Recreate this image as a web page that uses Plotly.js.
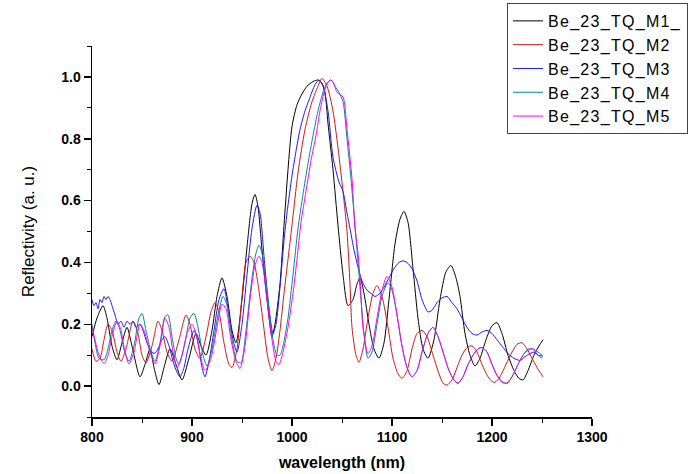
<!DOCTYPE html>
<html>
<head>
<meta charset="utf-8">
<script src="https://cdn.plot.ly/plotly-3.0.1.min.js"></script>
<style>html,body{margin:0;padding:0;background:#fff;}#chart{width:696px;height:474px;}
.legendtext{letter-spacing:1.3px;}</style>
</head>
<body>
<div id="chart"></div>
<script>
// Series names
const seriesNames = ["Be_23_TQ_M1_", "Be_23_TQ_M2", "Be_23_TQ_M3", "Be_23_TQ_M4", "Be_23_TQ_M5"];

// M1 (black)
const wlM1 = [800,805,811,815,820,825,830,835,840,848,853,858,862,867,872,878,884,890,897,904,909,914,920,925,930,935,940,944,950,955,960,963,966,970,975,980,983,988,992,996,1000,1005,1010,1015,1021,1026,1030,1033,1036,1041,1046,1051,1056,1061,1065,1068,1072,1077,1082,1087,1092,1097,1103,1108,1112,1116,1121,1126,1131,1136,1142,1148,1154,1159,1164,1168,1173,1178,1183,1188,1194,1200,1205,1210,1216,1222,1227,1231,1236,1242,1247,1251];
const rM1 = [0.16,0.22,0.26,0.22,0.13,0.085,0.14,0.19,0.13,0.03,0.07,0.12,0.06,0.005,0.06,0.12,0.07,0.02,0.09,0.17,0.13,0.10,0.18,0.29,0.35,0.29,0.18,0.14,0.28,0.45,0.59,0.62,0.58,0.44,0.28,0.16,0.20,0.33,0.52,0.70,0.84,0.91,0.945,0.97,0.985,0.99,0.98,0.95,0.85,0.70,0.52,0.36,0.26,0.28,0.33,0.35,0.30,0.20,0.12,0.09,0.14,0.28,0.46,0.54,0.565,0.53,0.38,0.22,0.12,0.09,0.15,0.28,0.37,0.39,0.35,0.29,0.17,0.10,0.065,0.09,0.15,0.195,0.205,0.17,0.10,0.05,0.025,0.02,0.05,0.10,0.13,0.15];

// M2 (red)
const wlM2 = [800,804,808,812,816,820,825,829,834,841,846,850,854,860,866,870,875,880,887,894,898,903,908,914,919,923,927,932,937,940,945,950,954,958,962,966,971,976,980,984,988,992,996,1000,1006,1013,1020,1026,1030,1035,1041,1046,1051,1055,1058,1060,1064,1067,1071,1076,1081,1085,1090,1096,1101,1106,1110,1115,1120,1125,1130,1135,1141,1147,1151,1155,1160,1165,1170,1175,1180,1185,1190,1196,1200,1203,1208,1214,1220,1225,1230,1235,1240,1245,1251];
const rM2 = [0.12,0.08,0.09,0.15,0.20,0.18,0.11,0.08,0.12,0.21,0.17,0.10,0.075,0.13,0.21,0.18,0.11,0.08,0.15,0.23,0.20,0.12,0.09,0.16,0.24,0.27,0.24,0.14,0.07,0.06,0.12,0.29,0.40,0.42,0.40,0.33,0.21,0.09,0.05,0.09,0.18,0.30,0.41,0.52,0.69,0.83,0.92,0.97,0.995,0.97,0.89,0.77,0.63,0.50,0.33,0.19,0.10,0.077,0.12,0.22,0.30,0.325,0.29,0.19,0.09,0.04,0.025,0.05,0.12,0.17,0.18,0.16,0.10,0.04,0.01,0.003,0.02,0.06,0.10,0.125,0.13,0.11,0.07,0.03,0.015,0.012,0.03,0.07,0.11,0.135,0.14,0.12,0.09,0.06,0.03];

// M3 (blue)
const wlM3 = [800,802,804,806,808,810,812,814,816,818,820,823,826,829,832,835,838,841,844,848,851,855,858,862,866,870,873,877,881,885,888,892,896,902,906,910,913,917,922,927,932,936,941,945,950,955,960,965,968,972,976,981,984,988,992,995,1000,1004,1008,1013,1017,1023,1027,1031,1036,1041,1047,1051,1055,1058,1062,1066,1070,1075,1079,1083,1088,1092,1097,1102,1107,1111,1115,1120,1125,1130,1136,1140,1145,1150,1155,1160,1165,1170,1175,1180,1185,1190,1195,1200,1205,1211,1216,1222,1228,1233,1238,1242,1246,1251];
const rM3 = [0.28,0.26,0.27,0.25,0.28,0.27,0.29,0.28,0.29,0.28,0.26,0.23,0.20,0.21,0.19,0.21,0.20,0.21,0.19,0.20,0.18,0.14,0.12,0.105,0.12,0.15,0.16,0.13,0.08,0.045,0.03,0.06,0.12,0.18,0.14,0.06,0.03,0.08,0.18,0.28,0.315,0.25,0.15,0.11,0.20,0.36,0.51,0.585,0.56,0.42,0.28,0.17,0.20,0.32,0.47,0.56,0.68,0.76,0.83,0.89,0.925,0.975,0.99,0.97,0.89,0.74,0.66,0.63,0.56,0.51,0.44,0.385,0.34,0.31,0.30,0.29,0.30,0.32,0.35,0.38,0.40,0.405,0.40,0.38,0.34,0.28,0.24,0.245,0.27,0.285,0.29,0.27,0.25,0.22,0.19,0.17,0.165,0.175,0.18,0.17,0.15,0.125,0.105,0.09,0.083,0.095,0.105,0.11,0.10,0.097];

// M4 (teal)
const wlM4 = [800,803,807,812,816,820,824,828,832,837,842,847,850,854,859,863,868,873,876,880,884,887,893,898,902,906,911,915,920,926,931,935,940,945,949,954,960,964,967,970,975,980,985,988,991,996,1001,1006,1011,1016,1021,1026,1031,1035,1039,1043,1047,1051,1055,1059,1063,1066,1069,1072,1076,1080,1085,1090,1096,1100,1105,1110,1115,1120,1125,1130,1136,1141,1146,1152,1157,1162,1166,1171,1176,1181,1186,1190,1195,1200,1205,1210,1215,1220,1226,1231,1236,1241,1246,1250];
const rM4 = [0.20,0.14,0.09,0.085,0.12,0.18,0.21,0.18,0.12,0.08,0.13,0.22,0.235,0.18,0.11,0.08,0.14,0.225,0.23,0.16,0.09,0.07,0.14,0.22,0.235,0.19,0.10,0.065,0.12,0.23,0.29,0.26,0.15,0.08,0.075,0.18,0.35,0.43,0.455,0.43,0.31,0.17,0.10,0.10,0.13,0.22,0.36,0.51,0.62,0.72,0.81,0.89,0.95,0.98,0.99,0.97,0.95,0.92,0.80,0.67,0.52,0.40,0.28,0.17,0.09,0.11,0.20,0.29,0.335,0.31,0.23,0.13,0.06,0.03,0.05,0.11,0.17,0.19,0.16,0.10,0.05,0.02,0.01,0.03,0.07,0.10,0.12,0.125,0.11,0.07,0.035,0.015,0.01,0.03,0.07,0.10,0.12,0.12,0.11,0.10];

// M5 (magenta)
const wlM5 = [800,803,807,812,816,820,825,829,833,837,842,848,852,857,863,868,873,877,881,885,890,895,900,904,909,913,919,925,930,934,939,944,948,953,958,963,967,970,975,980,984,987,991,996,1001,1005,1009,1014,1019,1024,1028,1033,1038,1041,1045,1051,1055,1060,1063,1066,1068,1071,1076,1080,1085,1090,1095,1100,1105,1110,1115,1120,1125,1130,1136,1141,1146,1152,1157,1162,1166,1171,1176,1181,1186,1190,1195,1200,1205,1210,1215,1220,1226,1231,1236,1241,1246,1250];
const rM5 = [0.19,0.15,0.10,0.073,0.10,0.16,0.21,0.18,0.11,0.072,0.11,0.20,0.18,0.12,0.072,0.13,0.22,0.19,0.11,0.06,0.10,0.17,0.20,0.17,0.09,0.05,0.09,0.19,0.265,0.25,0.15,0.08,0.057,0.13,0.28,0.39,0.42,0.40,0.28,0.15,0.08,0.07,0.11,0.19,0.30,0.41,0.53,0.63,0.73,0.81,0.89,0.96,0.99,0.985,0.95,0.935,0.83,0.67,0.51,0.43,0.35,0.19,0.105,0.13,0.22,0.31,0.355,0.32,0.23,0.13,0.06,0.03,0.05,0.11,0.17,0.19,0.16,0.10,0.05,0.02,0.008,0.03,0.07,0.10,0.12,0.125,0.11,0.07,0.035,0.012,0.008,0.03,0.07,0.10,0.115,0.12,0.10,0.09];

const xTickVals = [800, 900, 1000, 1100, 1200, 1300];
const yTickVals = [0.0, 0.2, 0.4, 0.6, 0.8, 1.0];

const colors = ["#000000", "#d01818", "#1a1aff", "#008a8a", "#ff00ff"];
const xs = [wlM1, wlM2, wlM3, wlM4, wlM5];
const ys = [rM1, rM2, rM3, rM4, rM5];

const traces = seriesNames.map((n, i) => ({
  x: xs[i], y: ys[i], name: n, type: "scatter", mode: "lines",
  line: {color: colors[i], width: 1, shape: "spline", smoothing: 0.7}
}));

const FONT = "Liberation Sans, Arial, Helvetica, sans-serif";

const layout = {
  width: 696, height: 474,
  margin: {l: 92, r: 104, t: 46, b: 57, autoexpand: false},
  paper_bgcolor: "#fff", plot_bgcolor: "#fff",
  font: {family: FONT, color: "#000"},
  showlegend: true,
  legend: {
    x: 0.83, y: 1.116, xanchor: "left", yanchor: "top",
    bgcolor: "#fff", bordercolor: "#444", borderwidth: 1,
    font: {family: FONT, size: 16, color: "#000"},
    tracegroupgap: 0
  },
  xaxis: {
    range: [800, 1300], tickvals: xTickVals, ticktext: xTickVals.map(String),
    showgrid: false, zeroline: false, showline: true, linecolor: "#000", linewidth: 1.5,
    ticks: "outside", ticklen: 7, tickwidth: 1.5, tickcolor: "#000",
    minor: {dtick: 50, tick0: 800, ticks: "outside", ticklen: 4, tickwidth: 1, tickcolor: "#000", showgrid: false},
    tickfont: {family: FONT, size: 14, weight: "bold"},
    title: {text: "wavelength (nm)", font: {family: FONT, size: 16, weight: "bold"}, standoff: 12},
    automargin: false
  },
  yaxis: {
    range: [-0.1, 1.1], tickvals: yTickVals, ticktext: yTickVals.map(v => v.toFixed(1)),
    showgrid: false, zeroline: false, showline: true, linecolor: "#000", linewidth: 1.5,
    ticks: "outside", ticklen: 7, tickwidth: 1.5, tickcolor: "#000",
    minor: {dtick: 0.1, tick0: 0, ticks: "outside", ticklen: 4, tickwidth: 1, tickcolor: "#000", showgrid: false},
    tickfont: {family: FONT, size: 14, weight: "bold"},
    title: {text: "Reflectivity (a. u.)", font: {family: FONT, size: 17}, standoff: 22},
    automargin: false
  }
};

Plotly.newPlot("chart", traces, layout, {displayModeBar: false, staticPlot: true});
</script>
</body>
</html>
